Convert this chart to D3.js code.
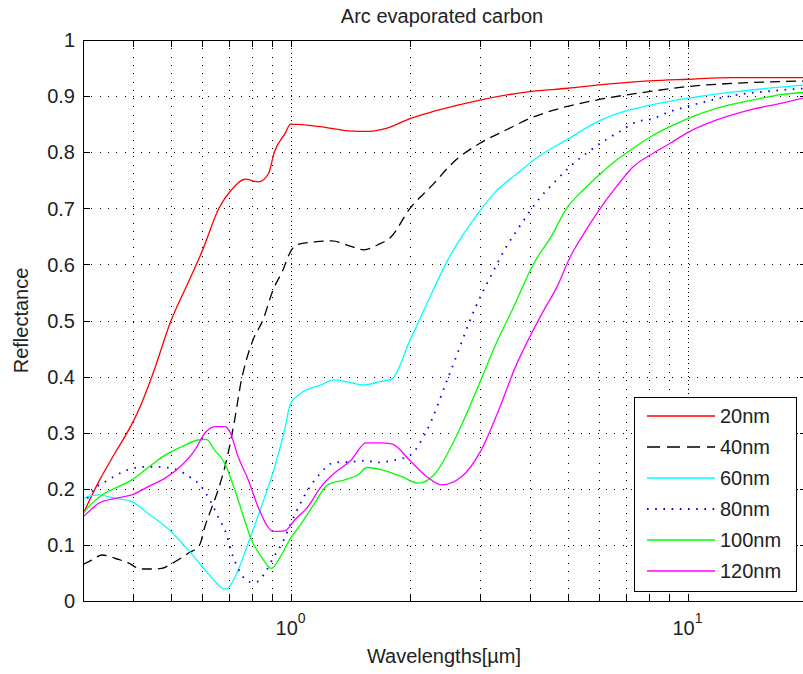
<!DOCTYPE html>
<html>
<head>
<meta charset="utf-8">
<script src="https://cdn.jsdelivr.net/npm/d3@7"></script>
<style>
  html, body { margin: 0; padding: 0; background: #fff; overflow: hidden; }
  svg { display: block; font-family: "Liberation Sans", Arial, sans-serif; }
</style>
</head>
<body>
<div id="chart"></div>
<script>
// Wavelengths (µm) and reflectance, one pair per film thickness
const wl20 = [0.3, 0.33, 0.36, 0.4, 0.42, 0.45, 0.5, 0.55, 0.6, 0.66, 0.71, 0.77, 0.83, 0.88, 0.91, 0.97, 1.0, 1.2, 1.4, 1.55, 1.75, 2.0, 2.3, 3, 4, 5, 6, 8, 10, 13, 20];
const r20 = [0.155, 0.215, 0.262, 0.318, 0.35, 0.405, 0.5, 0.565, 0.625, 0.70, 0.733, 0.752, 0.747, 0.762, 0.80, 0.834, 0.85, 0.845, 0.838, 0.837, 0.843, 0.86, 0.873, 0.893, 0.908, 0.914, 0.92, 0.927, 0.93, 0.933, 0.933];

const wl40 = [0.3, 0.316, 0.335, 0.369, 0.39, 0.42, 0.447, 0.473, 0.5, 0.552, 0.59, 0.608, 0.632, 0.657, 0.696, 0.723, 0.752, 0.766, 0.804, 0.852, 0.903, 0.957, 0.995, 1.034, 1.15, 1.27, 1.42, 1.53, 1.66, 1.79, 2.0, 2.26, 2.58, 3.0, 3.5, 4.0, 4.6, 5.9, 8, 10, 13.3, 20];
const r40 = [0.065, 0.073, 0.082, 0.074, 0.068, 0.057, 0.057, 0.058, 0.066, 0.085, 0.1, 0.132, 0.165, 0.198, 0.263, 0.323, 0.394, 0.418, 0.465, 0.501, 0.554, 0.59, 0.62, 0.635, 0.64, 0.642, 0.632, 0.626, 0.635, 0.649, 0.70, 0.739, 0.783, 0.816, 0.84, 0.86, 0.875, 0.893, 0.908, 0.917, 0.923, 0.927];

const wl60 = [0.3, 0.328, 0.361, 0.398, 0.438, 0.5, 0.562, 0.62, 0.683, 0.696, 0.738, 0.782, 0.844, 0.912, 0.966, 1.0, 1.06, 1.19, 1.29, 1.4, 1.53, 1.66, 1.8, 2.0, 2.17, 2.49, 2.99, 3.26, 3.72, 4.27, 4.96, 5.92, 7.03, 8.05, 9.95, 13.3, 20];
const r60 = [0.183, 0.189, 0.183, 0.177, 0.156, 0.124, 0.085, 0.049, 0.021, 0.023, 0.055, 0.103, 0.168, 0.239, 0.305, 0.352, 0.37, 0.385, 0.394, 0.39, 0.385, 0.39, 0.396, 0.465, 0.519, 0.608, 0.694, 0.727, 0.762, 0.795, 0.822, 0.854, 0.874, 0.884, 0.896, 0.908, 0.92];

const wl80 = [0.3, 0.319, 0.348, 0.383, 0.422, 0.464, 0.511, 0.563, 0.591, 0.626, 0.657, 0.689, 0.709, 0.738, 0.759, 0.789, 0.82, 0.86, 0.903, 0.957, 1.004, 1.106, 1.18, 1.29, 1.42, 1.56, 1.64, 1.8, 2.0, 2.19, 2.5, 2.93, 3.22, 3.48, 3.82, 4.24, 4.63, 5.05, 5.56, 6.13, 6.75, 7.43, 8.18, 9.0, 9.95, 11.5, 13.3, 16.8, 20];
const r80 = [0.17, 0.198, 0.216, 0.232, 0.239, 0.239, 0.235, 0.219, 0.207, 0.18, 0.15, 0.119, 0.088, 0.058, 0.043, 0.034, 0.034, 0.049, 0.076, 0.106, 0.14, 0.198, 0.225, 0.247, 0.248, 0.25, 0.247, 0.25, 0.26, 0.30, 0.40, 0.525, 0.584, 0.629, 0.673, 0.718, 0.747, 0.774, 0.798, 0.819, 0.837, 0.854, 0.86, 0.872, 0.881, 0.893, 0.902, 0.91, 0.914];

const wl100 = [0.3, 0.316, 0.335, 0.361, 0.398, 0.438, 0.483, 0.532, 0.585, 0.614, 0.644, 0.683, 0.709, 0.738, 0.766, 0.797, 0.844, 0.894, 0.948, 0.994, 1.064, 1.149, 1.24, 1.37, 1.48, 1.56, 1.69, 1.9, 2.1, 2.3, 2.6, 3.0, 3.3, 3.62, 4.1, 4.53, 4.96, 5.47, 5.98, 6.63, 7.3, 8.05, 8.87, 9.95, 11.8, 14.3, 17.4, 20];
const r100 = [0.156, 0.174, 0.189, 0.201, 0.216, 0.238, 0.26, 0.275, 0.287, 0.288, 0.269, 0.245, 0.216, 0.18, 0.144, 0.109, 0.079, 0.058, 0.082, 0.109, 0.138, 0.174, 0.207, 0.216, 0.225, 0.238, 0.234, 0.222, 0.21, 0.225, 0.29, 0.39, 0.46, 0.519, 0.602, 0.649, 0.70, 0.733, 0.759, 0.786, 0.807, 0.827, 0.843, 0.859, 0.878, 0.892, 0.903, 0.907];

const wl120 = [0.3, 0.31, 0.328, 0.361, 0.398, 0.438, 0.483, 0.532, 0.574, 0.608, 0.644, 0.683, 0.703, 0.738, 0.782, 0.828, 0.877, 0.903, 0.966, 1.023, 1.106, 1.194, 1.29, 1.42, 1.55, 1.69, 1.8, 2.0, 2.2, 2.4, 2.7, 3.0, 3.3, 3.7, 4.0, 4.35, 4.69, 5.07, 5.48, 6.03, 6.63, 7.3, 8.05, 9.05, 9.95, 11.8, 14.3, 17.4, 20];
const r120 = [0.15, 0.159, 0.174, 0.183, 0.189, 0.204, 0.219, 0.242, 0.269, 0.299, 0.311, 0.311, 0.302, 0.257, 0.216, 0.168, 0.132, 0.124, 0.125, 0.144, 0.168, 0.204, 0.228, 0.251, 0.282, 0.282, 0.28, 0.25, 0.222, 0.207, 0.222, 0.265, 0.33, 0.42, 0.47, 0.519, 0.56, 0.614, 0.655, 0.70, 0.739, 0.774, 0.795, 0.816, 0.834, 0.857, 0.875, 0.888, 0.898];

const seriesNames = ["20nm", "40nm", "60nm", "80nm", "100nm", "120nm"];

// Axis ticks
const yTicks = [0, 0.1, 0.2, 0.3, 0.4, 0.5, 0.6, 0.7, 0.8, 0.9, 1];
const xMajorTicks = [1, 10];
const xMinorTicks = [0.4, 0.5, 0.6, 0.7, 0.8, 0.9, 2, 3, 4, 5, 6, 7, 8, 9];

const title = "Arc evaporated carbon";
const xLabel = "Wavelengths[\u00b5m]";
const yLabel = "Reflectance";

// Styles, one per series
const styles = [
  { color: "#ff0000", dash: null, width: 1.3 },
  { color: "#000000", dash: "10,6", legendDash: "13,7", width: 1.3 },
  { color: "#00ffff", dash: null, width: 1.3 },
  { color: "#0000ff", dash: "1.6,6.6", width: 1.8 },
  { color: "#00ff00", dash: null, width: 1.3 },
  { color: "#ff00ff", dash: null, width: 1.3 },
];

const series = [
  [wl20, r20], [wl40, r40], [wl60, r60], [wl80, r80], [wl100, r100], [wl120, r120],
].map(([wl, r], i) => ({
  name: seriesNames[i],
  values: wl.map((w, j) => ({ wl: w, r: r[j] })),
  ...styles[i],
}));

const width = 803;
const height = 674;
const margin = { top: 40, right: -4, bottom: 73, left: 83 };
const innerW = width - margin.left - margin.right;
const innerH = height - margin.top - margin.bottom;
const tickLen = 7;

const x = d3.scaleLog().domain([0.3, 20]).range([0, innerW]);
const y = d3.scaleLinear().domain([0, 1]).range([innerH, 0]);
const px = (v) => Math.round(v) + 0.5;

const svg = d3
  .select("#chart")
  .append("svg")
  .attr("width", width)
  .attr("height", height)
  .style("overflow", "hidden");

svg.append("rect").attr("width", width).attr("height", height).attr("fill", "#fff");

svg
  .append("defs")
  .append("clipPath")
  .attr("id", "plot-clip")
  .append("rect")
  .attr("width", innerW)
  .attr("height", innerH);

const g = svg.append("g").attr("transform", `translate(${margin.left},${margin.top})`);

// Grid
const grid = g.append("g").attr("stroke", "#000").attr("stroke-width", 1).attr("shape-rendering", "crispEdges");

grid
  .selectAll(".hgrid")
  .data(yTicks.filter((t) => t > 0 && t < 1))
  .join("line")
  .attr("x1", 0)
  .attr("x2", innerW)
  .attr("y1", (d) => px(y(d)))
  .attr("y2", (d) => px(y(d)))
  .attr("stroke-dasharray", "1,7.3");

grid
  .selectAll(".vminor")
  .data(xMinorTicks)
  .join("line")
  .attr("x1", (d) => px(x(d)))
  .attr("x2", (d) => px(x(d)))
  .attr("y1", 0)
  .attr("y2", innerH)
  .attr("stroke-dasharray", "1,7.3");

grid
  .selectAll(".vmajor")
  .data(xMajorTicks)
  .join("line")
  .attr("x1", (d) => px(x(d)))
  .attr("x2", (d) => px(x(d)))
  .attr("y1", 0)
  .attr("y2", innerH)
  .attr("stroke-dasharray", "1,3.2");

// Curves
const line = d3
  .line()
  .x((d) => x(d.wl))
  .y((d) => y(d.r))
  .curve(d3.curveMonotoneX);

g.append("g")
  .attr("clip-path", "url(#plot-clip)")
  .selectAll("path")
  .data(series)
  .join("path")
  .attr("fill", "none")
  .attr("stroke", (d) => d.color)
  .attr("stroke-width", (d) => d.width)
  .attr("stroke-dasharray", (d) => d.dash)
  .attr("d", (d) => line(d.values));

// Box and ticks
const axes = g.append("g").attr("stroke", "#000").attr("shape-rendering", "crispEdges");

axes
  .append("rect")
  .attr("x", 0.5)
  .attr("y", 0.5)
  .attr("width", innerW)
  .attr("height", innerH)
  .attr("fill", "none")
  .attr("stroke-width", 1.2);

const allX = xMinorTicks.concat(xMajorTicks);
axes
  .selectAll(".xtb")
  .data(allX)
  .join("line")
  .attr("x1", (d) => px(x(d)))
  .attr("x2", (d) => px(x(d)))
  .attr("y1", innerH)
  .attr("y2", innerH - tickLen);

axes
  .selectAll(".xtt")
  .data(allX)
  .join("line")
  .attr("x1", (d) => px(x(d)))
  .attr("x2", (d) => px(x(d)))
  .attr("y1", 0)
  .attr("y2", tickLen);

axes
  .selectAll(".ytl")
  .data(yTicks)
  .join("line")
  .attr("x1", 0)
  .attr("x2", tickLen)
  .attr("y1", (d) => px(y(d)))
  .attr("y2", (d) => px(y(d)));

axes
  .selectAll(".ytr")
  .data(yTicks)
  .join("line")
  .attr("x1", innerW)
  .attr("x2", innerW - tickLen)
  .attr("y1", (d) => px(y(d)))
  .attr("y2", (d) => px(y(d)));

// Tick labels
g.append("g")
  .selectAll("text")
  .data(yTicks)
  .join("text")
  .attr("x", -8)
  .attr("y", (d) => y(d))
  .attr("dy", "0.36em")
  .attr("text-anchor", "end")
  .attr("font-size", 20)
  .attr("fill", "#222")
  .text((d) => d3.format("")(d));

const xLabels = g
  .append("g")
  .selectAll("text")
  .data(xMajorTicks)
  .join("text")
  .attr("x", (d) => x(d))
  .attr("y", innerH + 34)
  .attr("text-anchor", "middle")
  .attr("font-size", 20)
  .attr("fill", "#222");
xLabels.append("tspan").text("10");
xLabels
  .append("tspan")
  .attr("dy", -12)
  .attr("font-size", 14)
  .text((d) => Math.round(Math.log10(d)));

// Title and axis labels
svg
  .append("text")
  .attr("x", 442)
  .attr("y", 23)
  .attr("text-anchor", "middle")
  .attr("font-size", 20)
  .attr("fill", "#222")
  .text(title);

svg
  .append("text")
  .attr("x", 444)
  .attr("y", 663)
  .attr("text-anchor", "middle")
  .attr("font-size", 20)
  .attr("fill", "#222")
  .text(xLabel);

svg
  .append("text")
  .attr("transform", `translate(28,${margin.top + innerH / 2}) rotate(-90)`)
  .attr("text-anchor", "middle")
  .attr("font-size", 20)
  .attr("fill", "#222")
  .text(yLabel);

// Legend
const legend = svg.append("g").attr("transform", "translate(634,397)");

legend
  .append("rect")
  .attr("x", 0.5)
  .attr("y", 0.5)
  .attr("width", 162)
  .attr("height", 194)
  .attr("fill", "#fff")
  .attr("stroke", "#000")
  .attr("stroke-width", 1.2)
  .attr("shape-rendering", "crispEdges");

const entries = legend
  .selectAll(".entry")
  .data(series)
  .join("g")
  .attr("transform", (d, i) => `translate(0,${19 + i * 31})`);

entries
  .append("line")
  .attr("x1", 13)
  .attr("x2", 81)
  .attr("stroke", (d) => d.color)
  .attr("stroke-width", (d) => d.width)
  .attr("stroke-dasharray", (d) => d.legendDash || d.dash);

entries
  .append("text")
  .attr("x", 86)
  .attr("dy", "0.36em")
  .attr("font-size", 20)
  .attr("fill", "#222")
  .text((d) => d.name);
</script>
</body>
</html>
